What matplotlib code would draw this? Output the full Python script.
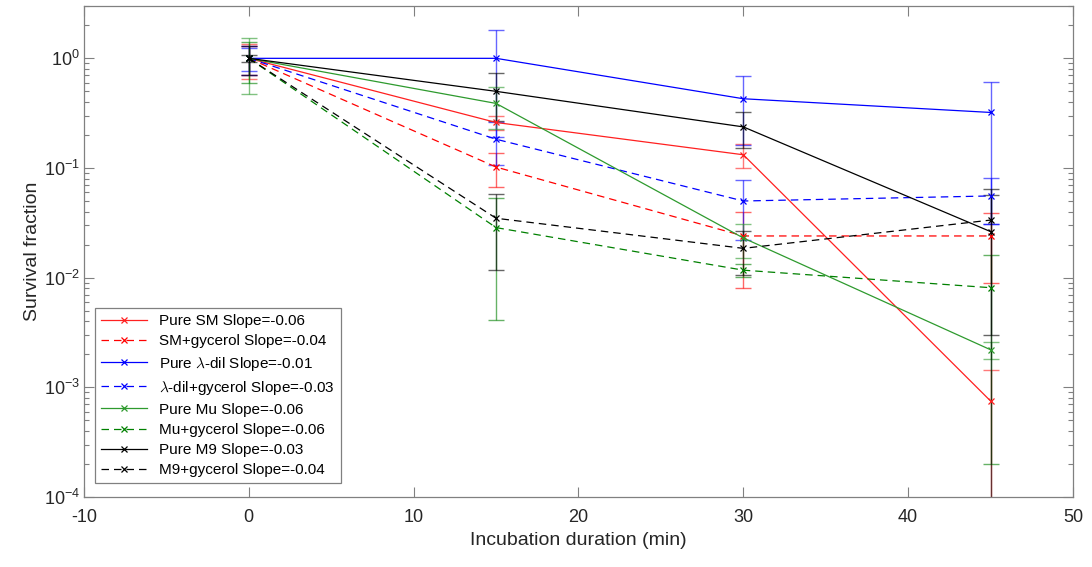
import numpy as np
import matplotlib
matplotlib.use('Agg')
import matplotlib.pyplot as plt
from matplotlib.lines import Line2D

plt.rcParams['font.family'] = ['Liberation Sans', 'DejaVu Sans']
plt.rcParams['mathtext.fontset'] = 'cm'
plt.rcParams['axes.unicode_minus'] = False

# Tiempos de incubación (min)
tiempos = [0, 15, 30, 45]

# Series: valor medio y desviación
etiquetas = ['Pure SM', 'SM+gycerol', r'Pure $\lambda$-dil', r'$\lambda$-dil+gycerol',
             'Pure Mu', 'Mu+gycerol', 'Pure M9', 'M9+gycerol']
pendientes = [-0.06, -0.04, -0.01, -0.03, -0.06, -0.06, -0.03, -0.04]

sm_puro = [1.0, 0.26, 0.132, 0.00075]
sm_puro_err = [0.35, 0.04, 0.033, 0.0007]
sm_gli = [1.0, 0.102, 0.024, 0.024]
sm_gli_err = [0.30, 0.035, 0.016, 0.015]
lam_puro = [1.0, 1.0, 0.428, 0.321]
lam_puro_err = [0.24, 0.81, 0.265, 0.29]
lam_gli = [1.0, 0.183, 0.050, 0.0556]
lam_gli_err = [0.30, 0.077, 0.028, 0.025]
mu_puro = [1.0, 0.388, 0.023, 0.0022]
mu_puro_err = [0.53, 0.16, 0.008, 0.0004]
mu_gli = [1.0, 0.0286, 0.0117, 0.0081]
mu_gli_err = [0.40, 0.0245, 0.0015, 0.0079]
m9_puro = [1.0, 0.50, 0.237, 0.0263]
m9_puro_err = [0.07, 0.23, 0.085, 0.03]
m9_gli = [1.0, 0.0348, 0.0185, 0.0335]
m9_gli_err = [0.30, 0.023, 0.008, 0.0305]

series = [sm_puro, sm_gli, lam_puro, lam_gli, mu_puro, mu_gli, m9_puro, m9_gli]
errores = [sm_puro_err, sm_gli_err, lam_puro_err, lam_gli_err,
           mu_puro_err, mu_gli_err, m9_puro_err, m9_gli_err]

colores = ['#ff2020', '#ff0000', '#0000ff', '#0000ff', '#2e9a2e', '#008000', '#000000', '#000000']
estilos = ['-', '--', '-', '--', '-', '--', '-', '--']

fig = plt.figure(figsize=(10.92, 5.67), dpi=100)
ax = fig.add_axes([0.0769, 0.1235, 0.9057, 0.8659])
ax.set_yscale('log')

manejadores = []
for y, e, c, ls, lab, m in zip(series, errores, colores, estilos, etiquetas, pendientes):
    y = np.array(y)
    e = np.array(e)
    # Se recorta el error inferior para no cruzar el cero en escala log
    inf = np.minimum(e, y - 1e-7)
    ax.errorbar(tiempos, y, yerr=[inf, e], fmt='none', ecolor=c, elinewidth=1.0,
                capsize=6, capthick=1.0, alpha=0.6, zorder=2)
    linea, = ax.plot(tiempos, y, color=c, linestyle=ls, linewidth=0.9,
                     marker='x', markersize=5, markeredgewidth=0.9, zorder=3)
    if ls == '--':
        linea.set_dashes((6, 4))
    manejadores.append(Line2D([], [], color=c, linestyle=ls, linewidth=0.9,
                              marker='x', markersize=5, markeredgewidth=0.9,
                              dashes=(6, 4) if ls == '--' else (None, None),
                              label=f'{lab} Slope={m:.2f}'))

ax.set_xlim(-10, 50)
ax.set_ylim(1e-4, 3)
ax.set_xticks([-10, 0, 10, 20, 30, 40, 50])
ax.set_yticks([1e-4, 1e-3, 1e-2, 1e-1, 1])

gris = '#808080'
for s in ax.spines.values():
    s.set_color(gris)
    s.set_linewidth(0.9)
ax.tick_params(which='both', direction='in', top=True, right=True, colors=gris,
               labelcolor='#262626', labelsize=13)
ax.tick_params(which='major', length=7, width=0.8)
ax.tick_params(which='minor', length=3.6, width=0.8)
ax.tick_params(axis='x', which='minor', bottom=False, top=False)
ax.tick_params(axis='x', pad=9)
ax.tick_params(axis='y', pad=3)

ax.set_xlabel('Incubation duration (min)', fontsize=14, color='#262626', labelpad=4)
ax.set_ylabel('Survival fraction', fontsize=14, color='#262626', labelpad=2)

leg = ax.legend(handles=manejadores, loc='lower left', bbox_to_anchor=(0.011, 0.028),
                borderaxespad=0, fontsize=11, fancybox=False, framealpha=1,
                edgecolor=gris, handlelength=3, handletextpad=0.8,
                labelspacing=0.40, borderpad=0.4)
leg.get_frame().set_linewidth(0.9)

fig.savefig('out.png', dpi=100)
